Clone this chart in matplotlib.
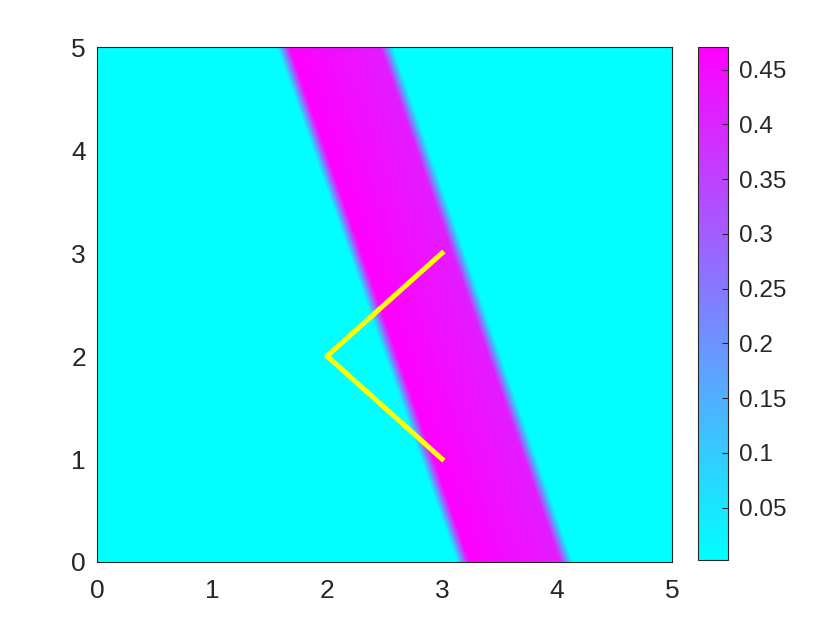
import numpy as np
import matplotlib
matplotlib.use("Agg")
import matplotlib.pyplot as plt

# band field
x_grid = np.linspace(0, 5, 501)
y_grid = np.linspace(0, 5, 501)
band_center_y0 = 3.635   # band centre at y=0
band_center_y5 = 2.07    # band centre at y=5
band_half_width = 0.45
edge_soft = 0.11
peak_left = 0.474
peak_right = 0.415
floor_value = 0.002

# path overlay
path_x = [3, 2, 3]
path_y = [3, 2, 1]

x_ticks = [0, 1, 2, 3, 4, 5]
y_ticks = [0, 1, 2, 3, 4, 5]
cbar_ticks = [0.05, 0.1, 0.15, 0.2, 0.25, 0.3, 0.35, 0.4, 0.45]
cbar_labels = ["0.05", "0.1", "0.15", "0.2", "0.25", "0.3", "0.35", "0.4", "0.45"]

X, Y = np.meshgrid(x_grid, y_grid)
center = band_center_y0 + (band_center_y5 - band_center_y0) * Y / 5.0
u = X - center
inside = np.clip((band_half_width - np.abs(u)) / edge_soft + 0.5, 0, 1)
level = peak_left + (peak_right - peak_left) * (u + band_half_width) / (2 * band_half_width)
Z = floor_value + (level - floor_value) * inside

text_col = "#262626"
plt.rcParams["font.family"] = ["Liberation Sans", "DejaVu Sans"]

fig = plt.figure(figsize=(8.4, 6.3), dpi=100)
ax = fig.add_axes([0.1155, 0.108, 0.6845, 0.817])
im = ax.imshow(Z, extent=[0, 5, 0, 5], origin="lower", cmap="cool",
               vmin=Z.min(), vmax=Z.max(), aspect="auto", interpolation="bilinear")
ax.plot(path_x, path_y, color="yellow", lw=3.6)
ax.set_xlim(0, 5)
ax.set_ylim(0, 5)
ax.set_xticks(x_ticks)
ax.set_yticks(y_ticks)
ax.tick_params(direction="in", labelsize=19, colors=text_col, length=0)
ax.tick_params(axis="x", pad=12)
ax.tick_params(axis="y", pad=8)
for s in ax.spines.values():
    s.set_color(text_col)
    s.set_linewidth(0.8)

cax = fig.add_axes([0.831, 0.111, 0.036, 0.814])
cb = fig.colorbar(im, cax=cax)
cb.set_ticks(cbar_ticks)
cb.set_ticklabels(cbar_labels)
cax.tick_params(direction="in", labelsize=17.5, colors=text_col, length=4, width=0.8, pad=8)
cb.outline.set_edgecolor(text_col)
cb.outline.set_linewidth(0.8)

fig.savefig("out.png", dpi=100)
